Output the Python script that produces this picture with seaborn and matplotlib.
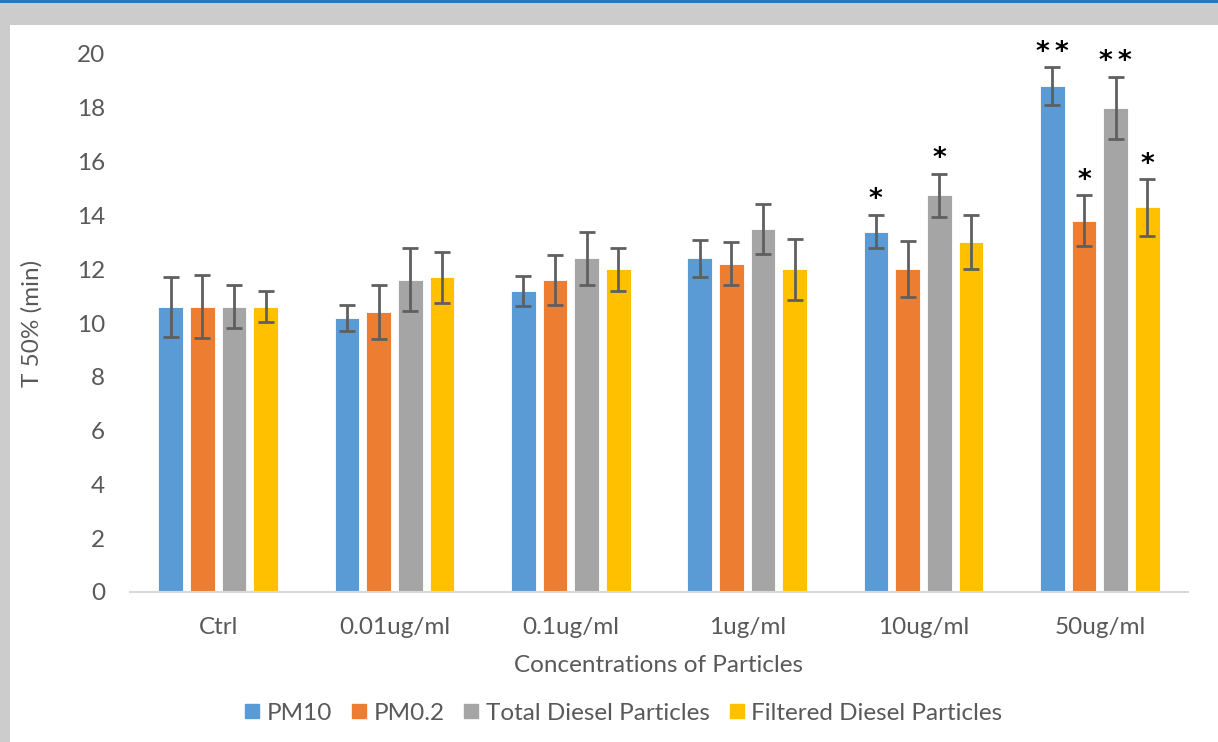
import matplotlib
matplotlib.use("Agg")
import matplotlib.pyplot as plt
from matplotlib.patches import Rectangle
from matplotlib.lines import Line2D
import pandas as pd
import seaborn as sns

categories = ["Ctrl", "0.01ug/ml", "0.1ug/ml", "1ug/ml", "10ug/ml", "50ug/ml"]
series = ["PM10", "PM0.2", "Total Diesel Particles", "Filtered Diesel Particles"]

pm10 = [10.6, 10.2, 11.2, 12.4, 13.4, 18.8]
pm02 = [10.6, 10.4, 11.6, 12.2, 12.0, 13.8]
total_diesel = [10.6, 11.6, 12.4, 13.5, 14.75, 18.0]
filtered_diesel = [10.6, 11.7, 12.0, 12.0, 13.0, 14.3]

pm10_err = [1.12, 0.48, 0.56, 0.69, 0.63, 0.70]
pm02_err = [1.17, 1.00, 0.94, 0.80, 1.05, 0.94]
total_err = [0.80, 1.17, 1.00, 0.93, 0.80, 1.15]
filtered_err = [0.58, 0.94, 0.80, 1.14, 1.00, 1.05]

pm10_sig = ["", "", "", "", "*", "**"]
pm02_sig = ["", "", "", "", "", "*"]
total_sig = ["", "", "", "", "*", "**"]
filtered_sig = ["", "", "", "", "", "*"]

COLORS = ["#5B9BD5", "#ED7D31", "#A5A5A5", "#FFC000"]
TEXT = "#595959"
FS = 17.5

values = [pm10, pm02, total_diesel, filtered_diesel]
errors = [pm10_err, pm02_err, total_err, filtered_err]
sigs = [pm10_sig, pm02_sig, total_sig, filtered_sig]

rows = []
for name, vals in zip(series, values):
    for cat, v in zip(categories, vals):
        rows.append({"conc": cat, "series": name, "t50": v})
df = pd.DataFrame(rows)

sns.set_style("white")
plt.rcParams["font.family"] = ["Lato", "DejaVu Sans"]

fig = plt.figure(figsize=(12.18, 7.42), dpi=100)
fig.patch.set_facecolor("white")

# grey frame and blue line at top, like the screenshot
fig.add_artist(Rectangle((0, 1 - 25 / 742), 1, 25 / 742, transform=fig.transFigure,
                         facecolor="#CCCCCC", edgecolor="none", zorder=0))
fig.add_artist(Rectangle((0, 0), 10 / 1218, 1, transform=fig.transFigure,
                         facecolor="#CCCCCC", edgecolor="none", zorder=0))
fig.add_artist(Rectangle((0, 1 - 3 / 742), 1, 3 / 742, transform=fig.transFigure,
                         facecolor="#2E75B6", edgecolor="none", zorder=1))

ax = fig.add_axes([130 / 1218, 1 - 592 / 742, 1058 / 1218, 538 / 742])
sns.barplot(
    data=df, x="conc", y="t50", hue="series", order=categories, hue_order=series,
    palette=COLORS, width=0.72, gap=0.22, errorbar=None, ax=ax,
    saturation=1, edgecolor="white", linewidth=0.6, legend=False,
)

for container, errs, marks in zip(ax.containers, errors, sigs):
    xs = [b.get_x() + b.get_width() / 2 for b in container]
    hs = [b.get_height() for b in container]
    ax.errorbar(xs, hs, yerr=errs, fmt="none", ecolor="#5F5F5F",
                elinewidth=2, capsize=6, capthick=2, zorder=3)
    for x, h, e, m in zip(xs, hs, errs, marks):
        if m:
            ax.annotate("\u2009".join(m), (x, h + e), xytext=(0, 1),
                        textcoords="offset points", ha="center", va="bottom",
                        fontsize=19, color="black", family="DejaVu Sans",
                        fontweight="bold")

ax.set_xlim(-0.5, 5.5)
ax.set_ylim(0, 20)
ax.set_yticks(range(0, 21, 2))
ax.tick_params(axis="both", length=0, labelsize=FS, labelcolor=TEXT)
ax.tick_params(axis="x", pad=18)
ax.tick_params(axis="y", pad=18)
for s in ["top", "right", "left"]:
    ax.spines[s].set_visible(False)
ax.spines["bottom"].set_color("#D9D9D9")
ax.spines["bottom"].set_linewidth(1.5)

ax.set_xlabel("Concentrations of Particles", fontsize=FS, color=TEXT)
ax.xaxis.set_label_coords(0.5, -0.118)
ax.set_ylabel("T 50% (min)", fontsize=FS, color=TEXT)
ax.yaxis.set_label_coords(-0.083, 0.5)

handles = [Line2D([0], [0], marker="s", linestyle="none", markersize=10,
                  markerfacecolor=c, markeredgecolor=c) for c in COLORS]
fig.legend(handles, series, loc="center", bbox_to_anchor=(0.51, 1 - 713 / 742),
           ncol=4, frameon=False, fontsize=FS, labelcolor=TEXT,
           handletextpad=0.1, columnspacing=0.6, handlelength=1.0)

fig.savefig("out.png", dpi=100)
